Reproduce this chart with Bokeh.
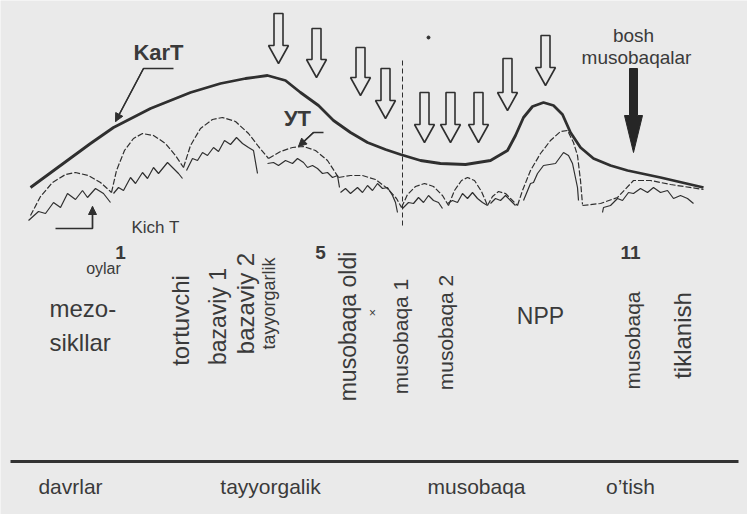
import math
from bokeh.plotting import figure
from bokeh.models import Range1d, Arrow, NormalHead
from bokeh.core.properties import value
from bokeh.embed import file_html
from bokeh.resources import INLINE

BG = "#eaeaea"
INK = "#2f2f2f"
TXT = "#3a3a3a"
FONT = "Liberation Sans"

# ---------------- data ----------------
# KatT: macrocycle load curve
katt_x = [30, 60, 90, 113, 150, 190, 220, 245, 267, 285, 300, 318, 333, 350, 367, 385, 400, 420,
          440, 465, 490, 507, 515, 523, 532, 543, 553, 562, 570, 580, 593, 610, 627, 660, 703]
katt_y = [187, 165, 143, 127, 108, 92, 83, 78, 75, 80, 92, 105, 120, 132, 142, 149, 154, 160,
          163, 164, 160, 150, 135, 117, 106, 102, 105, 114, 132, 147, 158, 165, 170, 177, 187]

# UT: mesocycle arches
ut_x = [
    [30, 40, 52, 65, 75, 88, 100, 111],
    [111, 116, 124, 133, 142, 153, 165, 175, 183],
    [183, 190, 200, 212, 222, 235, 248, 258, 268],
    [268, 280, 292, 303, 315, 327, 338],
    [338, 350, 362, 375, 387, 396, 401],
    [401, 407, 415, 424, 433, 442, 448],
    [448, 454, 461, 467, 474, 481, 487],
    [487, 492, 498, 505, 511, 517],
    [517, 522, 530, 540, 550, 560, 567, 573, 577, 580, 582],
    [582, 600, 617, 633, 650, 670, 703],
]
ut_y = [
    [215, 196, 182, 174, 172, 175, 182, 192],
    [192, 170, 150, 138, 133, 135, 143, 155, 167],
    [167, 145, 128, 119, 117, 121, 133, 146, 158],
    [158, 151, 147, 146, 150, 160, 177],
    [177, 175, 175, 179, 188, 198, 207],
    [207, 194, 186, 183, 186, 195, 205],
    [205, 190, 180, 177, 180, 191, 205],
    [205, 196, 191, 193, 199, 205],
    [205, 190, 170, 153, 140, 131, 130, 142, 155, 180, 204],
    [205, 203, 197, 180, 180, 184, 189],
]

# Kich T: microcycle waves
kich_x = [
    [28, 38, 45, 53, 60, 67, 75, 82, 87, 95, 103, 110],
    [113, 118, 123, 130, 135, 142, 147, 153, 158, 167, 173, 178, 182],
    [186, 192, 197, 202, 207, 213, 218, 224, 230, 236, 242, 248, 253, 257],
    [267, 273, 278, 285, 292, 297, 303, 307, 312, 317, 322, 327, 332, 337, 339],
    [340, 345, 350, 357, 362, 367, 372, 377, 382, 387, 392, 395, 397],
    [402, 408, 413, 418, 423, 428, 433, 438, 442],
    [447, 452, 457, 462, 467, 472, 477, 482, 487],
    [490, 495, 500, 505, 510, 515],
    [523, 530, 533, 537, 543, 555, 563, 568, 572, 577, 578],
    [602, 603, 610, 617, 622, 628, 633, 640, 647, 653, 660, 667, 673, 680, 687, 693],
]
kich_y = [
    [220, 211, 213, 202, 207, 193, 199, 190, 197, 188, 193, 202],
    [193, 187, 190, 177, 183, 172, 178, 167, 173, 162, 168, 173, 178],
    [170, 158, 160, 152, 155, 147, 151, 140, 144, 137, 143, 147, 150, 173],
    [163, 162, 165, 160, 163, 158, 162, 167, 165, 168, 173, 172, 177, 175, 187],
    [192, 188, 193, 187, 192, 185, 190, 183, 188, 187, 195, 202, 212],
    [208, 202, 203, 197, 202, 195, 200, 202, 208],
    [203, 200, 202, 193, 198, 192, 198, 202, 205],
    [203, 198, 200, 195, 200, 205],
    [200, 183, 182, 173, 165, 163, 152, 155, 163, 187, 200],
    [212, 207, 205, 198, 200, 192, 193, 188, 192, 187, 192, 190, 198, 195, 198, 203],
]

# hollow load arrows (x, top, tip)
arrow_x = [278, 316, 360, 385, 424, 450, 478, 507, 545]
arrow_top = [13, 28, 47, 68, 92, 92, 92, 58, 35]
arrow_tip = [63, 77, 95, 118, 142, 142, 142, 110, 85]

# main competition arrow (solid)
main_x = [633]
main_top = [68]
main_tip = [152]

# label pointers
ptr_x = [[173, 143, 115], [323, 313, 298], [55, 92, 92]]
ptr_y = [[68, 68, 121], [132, 132, 146], [228, 228, 206]]

# phases divider
divider_x = [402]
divider_y = [60, 228]

# month numbers
month_labels = ["1", "5", "11"]
month_x = [120, 320, 630]
month_y = [252, 252, 252]

# mesocycle names (vertical)
meso_names = ["tortuvchi", "bazaviy 1", "bazaviy 2", "musobaqa oldi",
              "musobaqa 1", "musobaqa 2", "musobaqa", "tiklanish"]
meso_x = [180, 217, 245, 347, 400, 445, 632, 682]
meso_y = [320, 316, 303, 326, 336, 332, 340, 335]
meso_size = [24, 23, 24, 23, 21, 21, 21, 24]

# periods
period_names = ["davrlar", "tayyorgalik", "musobaqa", "o’tish"]
period_x = [70, 270, 476, 630]
period_y = [486, 486, 486, 486]

# ---------------- figure ----------------
p = figure(width=747, height=514, x_range=Range1d(0, 747), y_range=Range1d(514, 0),
           output_backend="svg", toolbar_location=None, min_border=0)
p.axis.visible = False
p.grid.visible = False
p.outline_line_color = None
p.background_fill_color = BG
p.border_fill_color = BG

# curves
p.multi_line(ut_x, ut_y, line_color=INK, line_width=1.2, line_dash="6 2")
p.multi_line(kich_x, kich_y, line_color=INK, line_width=1.2)
p.line(katt_x, katt_y, line_color=INK, line_width=2.8)

# divider
p.line([divider_x[0], divider_x[0]], divider_y, line_color=INK, line_width=1, line_dash="5 3")

# hollow arrows
xs, ys = [], []
for x, t, b in zip(arrow_x, arrow_top, arrow_tip):
    sw, hw, hl = 4.5, 10, 18
    xs.append([x - sw, x + sw, x + sw, x + hw, x, x - hw, x - sw])
    ys.append([t, t, b - hl, b - hl, b, b - hl, b - hl])
p.patches(xs, ys, fill_color=BG, line_color=INK, line_width=1.6)

# solid arrow
sxs, sys_ = [], []
for x, t, b in zip(main_x, main_top, main_tip):
    sw, hw, hl = 4, 9, 37
    sxs.append([x - sw, x + sw, x + sw, x + hw, x, x - hw, x - sw])
    sys_.append([t, t, b - hl, b - hl, b, b - hl, b - hl])
p.patches(sxs, sys_, fill_color="#262626", line_color="#262626", line_width=1)

# pointers
p.multi_line(ptr_x, ptr_y, line_color=INK, line_width=1.4)
for px_, py_ in zip(ptr_x, ptr_y):
    p.add_layout(Arrow(x_start=px_[-2], y_start=py_[-2], x_end=px_[-1], y_end=py_[-1],
                       line_color=INK, line_width=1.4,
                       end=NormalHead(size=8, fill_color=INK, line_color=INK)))

# bottom rule
p.line([10, 738], [461, 461], line_color="#333333", line_width=3)

# small dot
p.scatter([428], [37], size=3, color=INK)

def txt(x, y, t, size, bold=False, angle=0.0, align="center"):
    p.text(x=x, y=y, text=t, text_font=value(FONT), text_font_size=size,
           text_font_style="bold" if bold else "normal", text_color=TXT,
           text_align=align, text_baseline="middle", angle=angle)

txt([158], [52], ["KarT"], "22px", bold=True)
txt([297], [118], ["УТ"], "22px", bold=True)
txt([155], [227], ["Kich T"], "17px")
txt([633], [35], ["bosh"], "19px")
txt([636], [57], ["musobaqalar"], "19px")
txt(month_x, month_y, month_labels, "19px", bold=True)
txt([103], [268], ["oylar"], "16px")
txt([49], [308], ["mezo-"], "24px", align="left")
txt([49], [342], ["sikllar"], "24px", align="left")
for name, x, y, s in zip(meso_names, meso_x, meso_y, meso_size):
    txt([x], [y], [name], f"{s}px", angle=math.pi / 2)
txt([268], [303], ["tayyorgarlik"], "18px", angle=math.pi / 2)
txt([540], [315], ["NPP"], "23px")
txt([372], [312], ["×"], "12px")
txt(period_x, period_y, period_names, "21px")

html = file_html(p, INLINE)
html = html.replace("<body>", f'<body style="background:{BG}">', 1)
open("out.html", "w").write(html)
